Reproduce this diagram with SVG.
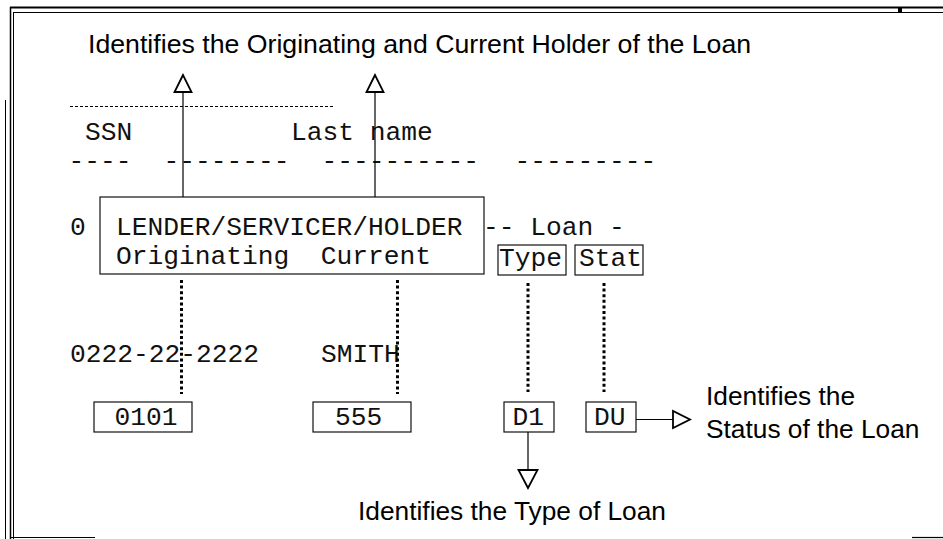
<svg xmlns="http://www.w3.org/2000/svg" width="943" height="539" viewBox="0 0 943 539">
<style>
.sans{font-family:"Liberation Sans",Arial,sans-serif;font-size:26.3px;fill:#000}
.title{font-size:26.7px}
.mono{font-family:"Liberation Mono","Courier New",monospace;font-size:26.25px;fill:#111}
.box{fill:none;stroke:#111;stroke-width:1.2}
.thin{stroke:#000;stroke-width:1.2;fill:none}
.dots{stroke:#000;stroke-width:3;stroke-dasharray:3 2.6;fill:none}
.tri{fill:#fff;stroke:#000;stroke-width:1.8;stroke-linejoin:miter}
.frame{stroke:#000;fill:none}
</style>
<rect width="943" height="539" fill="#fff"/>
<g id="frame">
<line class="frame" x1="10" y1="7.5" x2="943" y2="7.5" stroke-width="2"/>
<line class="frame" x1="13" y1="12.5" x2="943" y2="12.5" stroke-width="1"/>
<line class="frame" x1="10.5" y1="7" x2="10.5" y2="539" stroke-width="1.5"/>
<line class="frame" x1="13.5" y1="12" x2="13.5" y2="539" stroke-width="1"/>
<line class="frame" x1="5.5" y1="100" x2="5.5" y2="539" stroke-width="1" stroke="#555"/>
<line class="frame" x1="10" y1="537.5" x2="95" y2="537.5" stroke-width="1.2"/>
<line class="frame" x1="912" y1="537.5" x2="943" y2="537.5" stroke-width="1.2"/>
<rect x="898" y="8" width="4" height="4" fill="#000"/>
</g>
<g id="title"><text class="sans title" x="88" y="53">Identifies the Originating and Current Holder of the Loan</text></g>
<g id="header">
<line x1="70" y1="106.5" x2="333" y2="106.5" stroke="#000" stroke-width="1" stroke-dasharray="3 2"/>
<text class="mono" x="85" y="140">SSN</text>
<text class="mono" x="291" y="140">Last name</text>
<text class="mono" x="68.5" y="168.5">----</text>
<text class="mono" x="163.5" y="168.5">--------</text>
<text class="mono" x="321.5" y="168.5">----------</text>
<text class="mono" x="514.5" y="168.5">---------</text>
</g>
<g id="lender-box">
<rect class="box" x="100" y="197" width="384" height="77"/>
<text class="mono" x="116" y="235">LENDER/SERVICER/HOLDER</text>
<text class="mono" x="116" y="264">Originating</text>
<text class="mono" x="320.75" y="264">Current</text>
</g>
<g id="row-zero"><text class="mono" x="70" y="235">0</text></g>
<g id="loan-header"><text class="mono" x="483" y="235">-- Loan -</text></g>
<g id="type-box"><rect class="box" x="498" y="245" width="68" height="30"/><text class="mono" x="499" y="266">Type</text></g>
<g id="stat-box"><rect class="box" x="575" y="245" width="68" height="30"/><text class="mono" x="579" y="266">Stat</text></g>
<g id="data-row">
<text class="mono" x="70" y="362">0222-22-2222</text>
<text class="mono" x="321" y="362">SMITH</text>
</g>
<g id="box-0101"><rect class="box" x="94" y="402" width="98" height="30"/><text class="mono" x="114.5" y="425">0101</text></g>
<g id="box-555"><rect class="box" x="313" y="402" width="98" height="30"/><text class="mono" x="335" y="425">555</text></g>
<g id="box-D1"><rect class="box" x="504" y="402" width="50" height="30"/><text class="mono" x="512.5" y="425">D1</text></g>
<g id="box-DU"><rect class="box" x="586" y="402" width="50" height="30"/><text class="mono" x="594" y="425">DU</text></g>
<g id="label-type"><text class="sans" x="358" y="520">Identifies the Type of Loan</text></g>
<g id="label-status"><text class="sans" x="706" y="405">Identifies the</text><text class="sans" x="706" y="438">Status of the Loan</text></g>
<g id="connectors">
<line class="thin" x1="183" y1="92" x2="183" y2="197"/>
<polygon class="tri" points="183,75 174.5,92 191.5,92"/>
<line class="thin" x1="375" y1="92" x2="375" y2="197"/>
<polygon class="tri" points="375,75 366.5,92 383.5,92"/>
<line class="dots" x1="181.5" y1="280" x2="181.5" y2="394"/>
<line class="dots" x1="397.5" y1="280" x2="397.5" y2="394"/>
<line class="dots" x1="528" y1="283" x2="528" y2="392"/>
<line class="dots" x1="604" y1="283" x2="604" y2="392"/>
<line class="thin" x1="528" y1="432" x2="528" y2="470"/>
<polygon class="tri" points="518.5,470 537.5,470 528,488"/>
<line class="thin" x1="636" y1="419.5" x2="673" y2="419.5"/>
<polygon class="tri" points="673,411 673,428 690,419.5"/>
</g>
</svg>
